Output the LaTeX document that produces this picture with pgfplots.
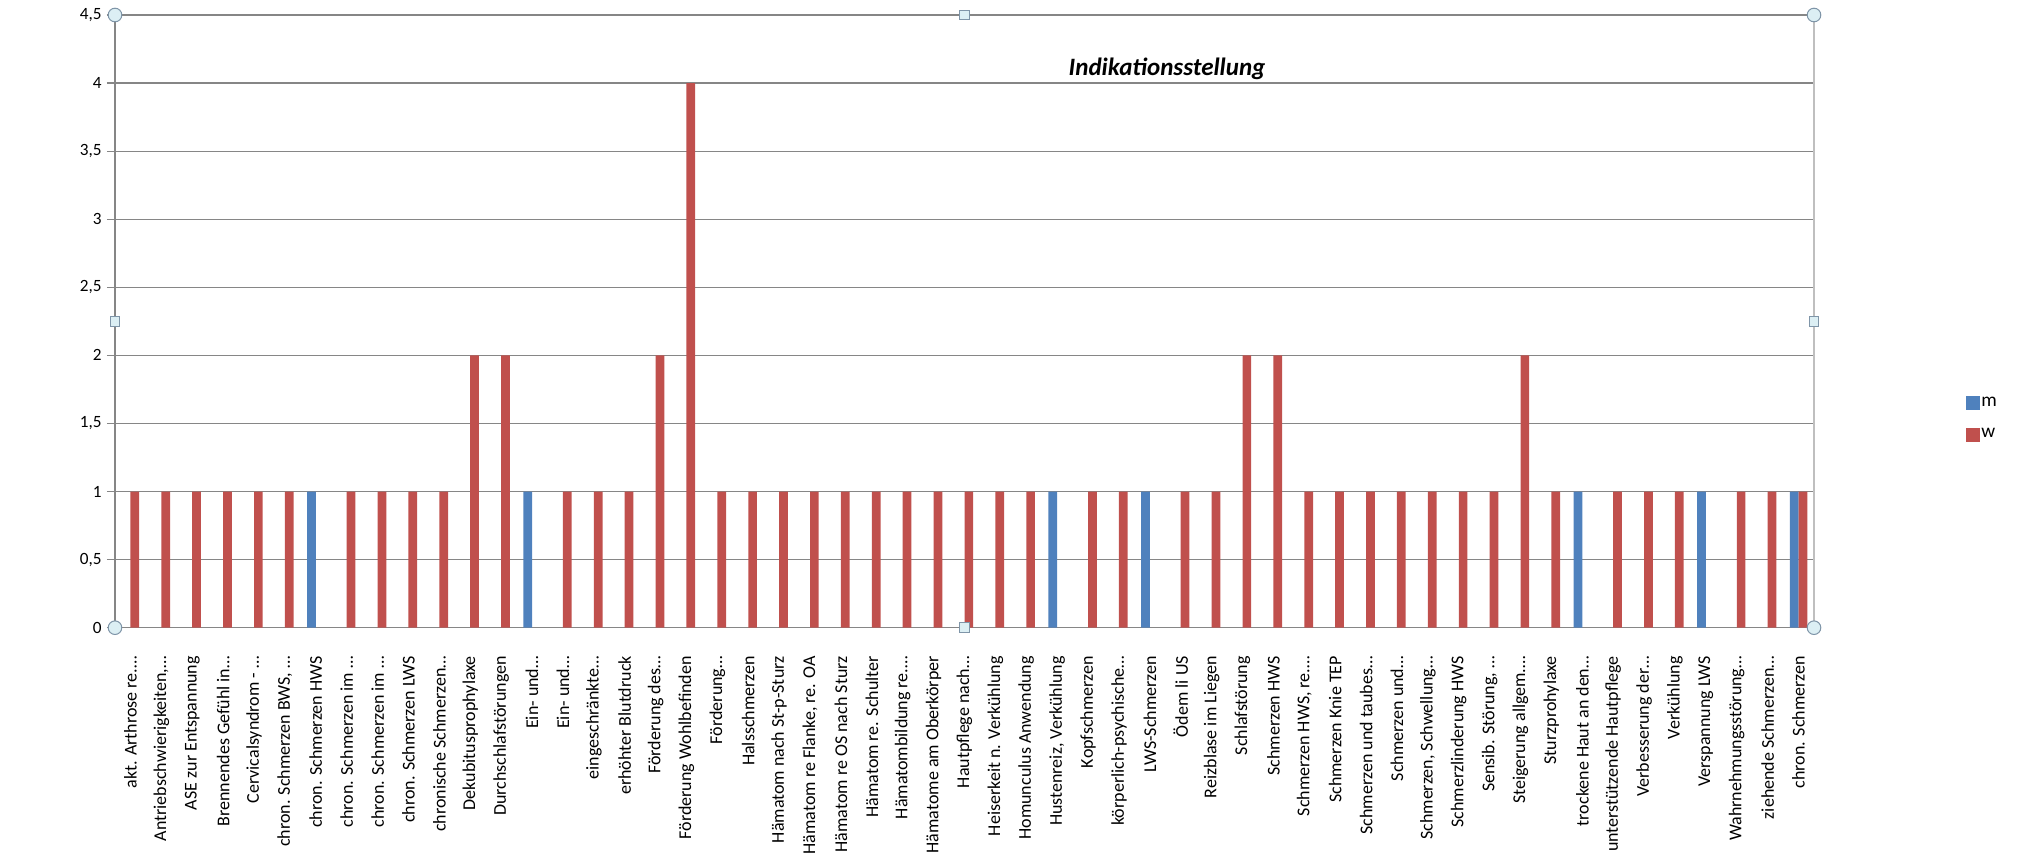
\documentclass[border=0pt]{standalone}
\usepackage{fontspec}
\setmainfont{Carlito}
\usepackage{pgfplots}
\pgfplotsset{compat=1.18}

\definecolor{serM}{HTML}{4F81BD}
\definecolor{serW}{HTML}{C0504D}
\definecolor{axgray}{HTML}{868686}
\definecolor{rimgray}{HTML}{BFBFBF}
\definecolor{hfill}{HTML}{DCEFF4}
\definecolor{hdraw}{HTML}{7F95A8}

\tikzset{
  hcirc/.style={fill=hfill, draw=hdraw, line width=0.5pt},
  hsq/.style={fill=hfill, draw=hdraw, line width=0.5pt, minimum size=4.8pt,
    inner sep=0pt, shape=rectangle},
}

\begin{document}
\begin{tikzpicture}
\path[use as bounding box] (0,0) rectangle (1015.5pt,426.5pt);
\begin{axis}[
  at={(57.5pt,112.65pt)}, anchor=south west,
  scale only axis, width=849.5pt, height=306.35pt,
  clip=false,
  xmin=-0.5, xmax=54.5, ymin=0, ymax=4.5,
  axis line style={axgray, line width=0.6pt},
  separate axis lines,
  axis x line*=bottom, axis y line*=left,
  ytick={0,0.5,...,4.5},
  ymajorgrids, grid style={axgray, line width=0.6pt},
  tick style={axgray, line width=0.6pt},
  tick align=outside,
  major tick length=4pt,
  yticklabel style={font=\fontsize{8.6}{10}\selectfont, inner sep=0pt, xshift=-2.5pt},
  /pgf/number format/.cd, use comma, fixed, assume math mode=true,
  /pgfplots/.cd,
  xtick={0,...,54},
  x tick style={draw=none},
  minor xtick={0.5,1.5,...,53.5},
  minor x tick style={axgray, line width=0.6pt},
  minor tick length=2.5pt,
  xticklabels={
    {akt. Arthrose re.…},{Antriebschwierigkeiten,…},{ASE zur Entspannung},
    {Brennendes Gefühl in…},{Cervicalsyndrom - …},{chron. Schmerzen BWS, …},
    {chron. Schmerzen HWS},{chron. Schmerzen im …},{chron. Schmerzen im …},
    {chron. Schmerzen LWS},{chronische Schmerzen…},{Dekubitusprophylaxe},
    {Durchschlafstörungen},{Ein- und…},{Ein- und…},
    {eingeschränkte…},{erhöhter Blutdruck},{Förderung des…},
    {Förderung Wohlbefinden},{Förderung…},{Halsschmerzen},
    {Hämatom nach St-p-Sturz},{Hämatom re Flanke, re. OA},{Hämatom re OS nach Sturz},
    {Hämatom re. Schulter},{Hämatombildung re.…},{Hämatome am Oberkörper},
    {Hautpflege nach…},{Heiserkeit n. Verkühlung},{Homunculus Anwendung},
    {Hustenreiz, Verkühlung},{Kopfschmerzen},{körperlich-psychische…},
    {LWS-Schmerzen},{Ödem li US},{Reizblase im Liegen},
    {Schlafstörung},{Schmerzen HWS},{Schmerzen HWS, re.…},
    {Schmerzen Knie TEP},{Schmerzen und taubes…},{Schmerzen und…},
    {Schmerzen, Schwellung…},{Schmerzlinderung HWS},{Sensib. Störung, …},
    {Steigerung allgem.…},{Sturzprohylaxe},{trockene Haut an den…},
    {unterstützende Hautpflege},{Verbesserung der…},{Verkühlung},
    {Verspannung LWS},{Wahrnehmungsstörung…},{ziehende Schmerzen…},
    {chron. Schmerzen}},
  xticklabel style={rotate=90, anchor=east, inner sep=0pt,
    font=\fontsize{9}{10}\selectfont},
  xticklabel shift=10pt,
  title={Indikationsstellung},
  title style={at={(0.6192,0.8923)}, anchor=center,
    font=\fontsize{12.5}{14}\selectfont\bfseries\itshape},
  legend style={at={(1.0895,0.3406)}, anchor=west, draw=none, fill=none,
    inner sep=0pt, row sep=8.5pt,
    font=\fontsize{9.7}{11}\selectfont,
    nodes={inner sep=0.5pt}},
  legend cell align=left,
  /tikz/every even column/.append style={column sep=5pt},
  legend image code/.code={\fill[#1] (0pt,-3.5pt) rectangle (7pt,3.5pt);},
]
% m: bars sit left of the category centre
\addplot[ybar, bar width=4.35pt, bar shift=-2.175pt, fill=serM, draw=none]
  coordinates {(6,1) (13,1) (30,1) (33,1) (47,1) (51,1) (54,1)};
% w: bars sit right of the category centre
\addplot[ybar, bar width=4.35pt, bar shift=2.175pt, fill=serW, draw=none]
  coordinates {
  (0,1) (1,1) (2,1) (3,1) (4,1) (5,1) (7,1) (8,1) (9,1) (10,1)
  (11,2) (12,2) (14,1) (15,1) (16,1) (17,2) (18,4) (19,1) (20,1)
  (21,1) (22,1) (23,1) (24,1) (25,1) (26,1) (27,1) (28,1) (29,1)
  (31,1) (32,1) (34,1) (35,1) (36,2) (37,2) (38,1) (39,1) (40,1)
  (41,1) (42,1) (43,1) (44,1) (45,2) (46,1) (48,1) (49,1) (50,1)
  (52,1) (53,1) (54,1)};
\legend{m,w}
% plot-area rim on the right and selection handles
\draw[rimgray, line width=1.4pt] (rel axis cs:1,0) -- (rel axis cs:1,1);
\filldraw[hcirc] (rel axis cs:0,0) circle (3.4pt);
\filldraw[hcirc] (rel axis cs:1,0) circle (3.4pt);
\filldraw[hcirc] (rel axis cs:0,1) circle (3.4pt);
\filldraw[hcirc] (rel axis cs:1,1) circle (3.4pt);
\node[hsq] at (rel axis cs:0.5,0) {};
\node[hsq] at (rel axis cs:0.5,1) {};
\node[hsq] at (rel axis cs:0,0.5) {};
\node[hsq] at (rel axis cs:1,0.5) {};
\end{axis}
\end{tikzpicture}
\end{document}
